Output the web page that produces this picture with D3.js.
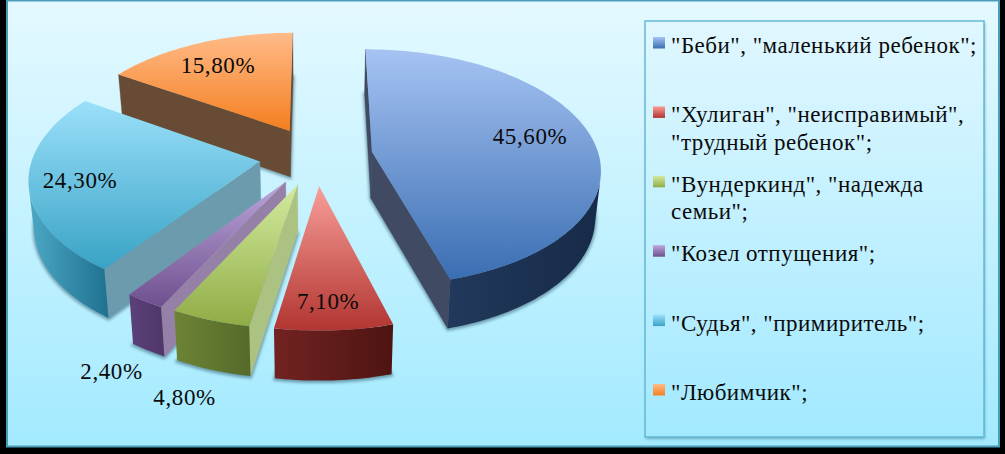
<!DOCTYPE html>
<html><head><meta charset="utf-8">
<script src="https://cdn.jsdelivr.net/npm/d3@7/dist/d3.min.js"></script>
<style>html,body{margin:0;padding:0;background:#000;overflow:hidden}svg{display:block}
text{font-family:"Liberation Serif",serif;fill:#0b0b0b}</style></head>
<body><svg id="c" width="1005" height="454"></svg>
<script>
const legendLines=[['"Беби", "маленький ребенок";'],['"Хулиган", "неисправимый",','"трудный ребенок";'],['"Вундеркинд", "надежда','семьи";'],['"Козел отпущения";'],['"Судья", "примиритель";'],['"Любимчик";']];
const values=[45.6,7.1,4.8,2.4,24.3,15.8];
const topLight=['#a6c3f3','#f89e99','#d3eb9f','#bba6da','#9be0fa','#ffbb88'];
const topDark=['#3a6eb2','#b23531','#8fac45','#6f4f8e','#39a3c5','#f47e1f'];
const rimLeft=['#22395b','#722321','#6d8336','#5c407a','#4ca8c5','#6a4c36'];
const rimRight=['#172a49','#4e1412','#566a2a','#4f3769','#1f7190','#5e4430'];
const wallColor=['#404a63','#8a4a48','#abc282','#9581a7','#6c9bae','#684b35'];
const labelReach=[.95,1.074,1.635,1.74,1.04,.989];
const labelNudge=[[4,-5],[-3,0],[15,14],[50,0],[2,1],[-2,1]];
const drawOrder=[0,5,4,3,2,1];

const svg=d3.select('#c'),defs=svg.append('defs');
const CX=316,CY=156,AX=227,AY=117,PERSP=.13,EXPLODE=.25;
const project=(u,v,down)=>{
  const k=1-PERSP*v;let x=CX+AX*u/k,y=CY+AY*v/k;
  if(down){x=CX+(x-CX)*.98;y+=46.3/(1-.06*v);}
  return [x,y];
};
const line=d3.line();
const area2=q=>d3.sum(q,(p,i)=>{const n=q[(i+1)%q.length];return p[0]*n[1]-n[0]*p[1];});

function grad(id,c1,c2,x2,y2){
  const g=defs.append('linearGradient').attr('id',id).attr('x1',0).attr('y1',0).attr('x2',x2).attr('y2',y2);
  g.append('stop').attr('offset',0).attr('stop-color',c1);
  g.append('stop').attr('offset',1).attr('stop-color',c2);
}
grad('bg','#e4f9ff','#a3eaff',0,1);
grad('bgL','#e0f7ff','#a2e9ff',0,1);
defs.append('filter').attr('id','sh').attr('x','-20%').attr('y','-20%').attr('width','140%').attr('height','140%')
  .append('feGaussianBlur').attr('stdDeviation',1.5);
defs.append('filter').attr('id','shL').attr('x','-5%').attr('y','-5%').attr('width','110%').attr('height','110%')
  .append('feGaussianBlur').attr('stdDeviation',1.6);
values.forEach((_,i)=>{grad('top'+i,topLight[i],topDark[i],0,1);grad('rim'+i,rimLeft[i],rimRight[i],1,0);});

// frame
svg.append('rect').attr('width',1005).attr('height',454).attr('fill','#000');
svg.append('rect').attr('x',7).attr('y',.5).attr('width',992).attr('height',446)
  .attr('fill','url(#bg)').attr('stroke','#4a9db8').attr('stroke-width',2);

const arcs=d3.pie().sort(null).value(d=>d)(values);
const g=svg.append('g');
const fmt=d3.format('.2f');

drawOrder.forEach(i=>{
  const a=arcs[i];
  const mid=(a.startAngle+a.endAngle)/2;
  const ex=EXPLODE*Math.sin(mid),ey=-EXPLODE*Math.cos(mid);
  const n=Math.max(4,Math.ceil((a.endAngle-a.startAngle)/0.02));
  const rim=d3.range(n+1).map(k=>{const t=a.startAngle+(a.endAngle-a.startAngle)*k/n;return [ex+Math.sin(t),ey-Math.cos(t)];});
  const apex=[ex,ey];
  const P=d=>project(d[0],d[1],false),Q=d=>project(d[0],d[1],true);
  const topPts=[apex,...rim].map(P),botPts=[apex,...rim].map(Q);
  // soft contact shadow
  g.append('path').attr('d',line(botPts)+'Z').attr('fill','#3d6a7c').attr('stroke','#3d6a7c').attr('stroke-width',3)
    .attr('opacity',.6).attr('filter','url(#sh)').attr('transform','translate(0,1)');
  // straight cut walls
  const wall=(d)=>[P(apex),P(d),Q(d),Q(apex)];
  const ws=wall(rim[0]),we=wall(rim[n]);
  [[ws,area2(ws)<0],[we,area2(we)>0]].forEach(([q,vis])=>{
    if(vis) g.append('path').attr('d',line(q)+'Z').attr('fill',wallColor[i]).attr('stroke',wallColor[i]).attr('stroke-width',.4);
  });
  // outer rim: the arc steps that face the viewer, as one band
  const seen=d3.range(n).filter(k=>area2([P(rim[k]),P(rim[k+1]),Q(rim[k+1]),Q(rim[k])])<0);
  if(seen.length){
    const idx=d3.range(d3.min(seen),d3.max(seen)+2);
    const band=[...idx.map(k=>P(rim[k])),...idx.slice().reverse().map(k=>Q(rim[k]))];
    g.append('path').attr('d',line(band)+'Z').attr('fill',`url(#rim${i})`);
  }
  g.append('path').attr('d',line(topPts)+'Z').attr('fill',`url(#top${i})`);
});

// data labels
arcs.forEach((a,i)=>{
  const mid=(a.startAngle+a.endAngle)/2;
  const w=labelReach[i];
  const p=project(w*Math.sin(mid),-w*Math.cos(mid),false);
  svg.append('text').attr('x',p[0]+labelNudge[i][0]).attr('y',p[1]+labelNudge[i][1]).attr('dy','.33em')
    .attr('text-anchor','middle').attr('font-size',23).attr('letter-spacing',.6)
    .text(fmt(values[i]).replace('.',',')+'%');
});

// legend
svg.append('rect').attr('x',646).attr('y',23).attr('width',339).attr('height',416).attr('fill','#3d7f96').attr('opacity',.55).attr('filter','url(#shL)');
svg.append('rect').attr('x',645).attr('y',21).attr('width',339).attr('height',416).attr('fill','url(#bgL)').attr('stroke','#5fb6d1').attr('stroke-width',1.4);
const rowY=d3.scaleLinear().domain([0,5]).range([42.5,389.5]);
legendLines.forEach((ls,i)=>{
  const y=rowY(i);
  svg.append('rect').attr('x',653).attr('y',y-5.5).attr('width',12).attr('height',11.5).attr('fill',`url(#top${i})`);
  ls.forEach((s,j)=>{
    svg.append('text').attr('x',671).attr('y',y+10.5+j*27.6).attr('font-size',23).attr('letter-spacing',.5).text(s);
  });
});
</script></body></html>
